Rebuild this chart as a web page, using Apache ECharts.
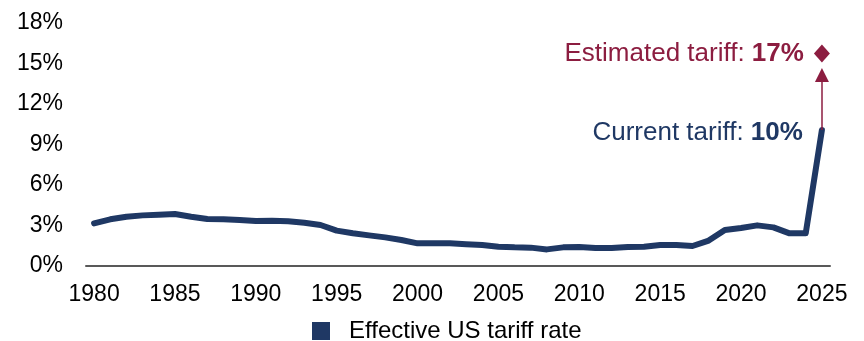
<!DOCTYPE html>
<html>
<head>
<meta charset="utf-8">
<script src="https://cdn.jsdelivr.net/npm/echarts@6/dist/echarts.min.js"></script>
<style>
  html, body { margin: 0; padding: 0; background: #fff; }
  #chart { width: 864px; height: 341px; }
</style>
</head>
<body>
<div id="chart"></div>
<script>
// years on the x axis
var years = [];
for (var y = 1980; y <= 2025; y++) { years.push(String(y)); }

// effective US tariff rate, %
var tariffRate = [
    3.16, 3.46, 3.65, 3.75, 3.80, 3.85, 3.65, 3.48, 3.46, 3.41,
    3.33, 3.36, 3.31, 3.21, 3.04, 2.62, 2.42, 2.27, 2.12, 1.93,
    1.68, 1.68, 1.68, 1.62, 1.56, 1.43, 1.38, 1.36, 1.23, 1.38,
    1.41, 1.33, 1.33, 1.41, 1.43, 1.56, 1.56, 1.48, 1.88, 2.67,
    2.81, 3.01, 2.86, 2.42, 2.42, 10.07
];

// estimated tariff marker: drawn position and label value
var estimatedYear = '2025';
var estimatedPos = 15.75;
var estimatedLabel = 17;
var currentLabel = 10;

var yTicks = [0, 3, 6, 9, 12, 15, 18];

var navy = '#1F3864';
var maroon = '#8C1D40';
var fontFamily = 'Liberation Sans, Arial, sans-serif';

var chart = echarts.init(document.getElementById('chart'));

var lastIdx = tariffRate.length - 1;

function richLabel(color) {
    return {
        a: { color: color, fontSize: 26, fontFamily: fontFamily },
        b: { color: color, fontSize: 26, fontWeight: 'bold', fontFamily: fontFamily }
    };
}

chart.setOption({
    animation: false,
    textStyle: { fontFamily: fontFamily },
    grid: { left: 86, right: 34, top: 23, bottom: 75, containLabel: false },
    legend: {
        top: 314,
        left: 307,
        data: [{ name: 'Effective US tariff rate', icon: 'rect' }],
        itemWidth: 18,
        itemHeight: 18,
        itemGap: 20,
        textStyle: { fontSize: 24, color: '#000', fontFamily: fontFamily, padding: [0, 0, 0, 14] }
    },
    xAxis: {
        type: 'category',
        data: years,
        boundaryGap: true,
        axisLine: { lineStyle: { color: '#595959', width: 2 } },
        axisTick: { show: false },
        axisLabel: {
            interval: 4,
            fontSize: 23,
            color: '#000',
            margin: 17
        }
    },
    yAxis: {
        type: 'value',
        min: yTicks[0],
        max: yTicks[yTicks.length - 1],
        interval: 3,
        splitLine: { show: false },
        axisLine: { show: false },
        axisTick: { show: false },
        axisLabel: {
            formatter: '{value}%',
            fontSize: 23,
            color: '#000',
            margin: 23
        }
    },
    series: [
        {
            name: 'Effective US tariff rate',
            type: 'line',
            data: tariffRate,
            symbol: 'none',
            smooth: false,
            lineStyle: { color: navy, width: 6, cap: 'round', join: 'round' },
            itemStyle: { color: navy },
            z: 3,
            markLine: {
                silent: true,
                symbol: ['none', 'triangle'],
                symbolSize: [14, 14],
                label: { show: false },
                lineStyle: { color: maroon, width: 1.5, type: 'solid' },
                data: [[
                    { coord: [estimatedYear, tariffRate[lastIdx]] },
                    { coord: [estimatedYear, estimatedPos - 1.6] }
                ]]
            }
        },
        {
            name: 'Current tariff',
            type: 'scatter',
            data: [[years[lastIdx], tariffRate[lastIdx]]],
            symbolSize: 2,
            itemStyle: { color: 'rgba(0,0,0,0)', opacity: 1 },
            label: {
                show: true,
                position: 'left',
                distance: 18,
                offset: [0, 3],
                formatter: '{a|Current tariff: }{b|' + currentLabel + '%}',
                rich: richLabel(navy)
            }
        },
        {
            name: 'Estimated tariff',
            type: 'scatter',
            data: [[estimatedYear, estimatedPos]],
            symbol: 'diamond',
            symbolSize: [16, 18],
            itemStyle: { color: maroon, opacity: 1 },
            label: {
                show: true,
                position: 'left',
                distance: 10,
                formatter: '{a|Estimated tariff: }{b|' + estimatedLabel + '%}',
                rich: richLabel(maroon)
            }
        }
    ]
});
</script>
</body>
</html>
